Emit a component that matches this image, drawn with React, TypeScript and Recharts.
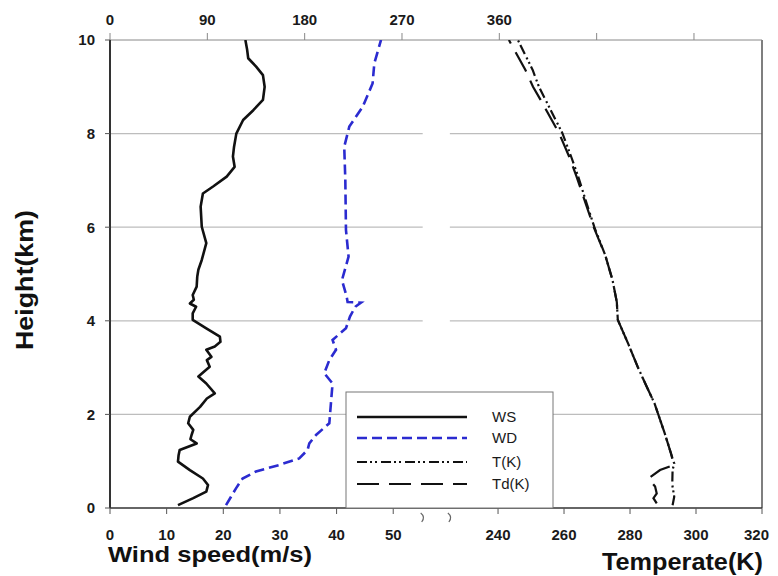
import React from 'react';
import { ScatterChart, Scatter, XAxis, YAxis, ReferenceLine, ReferenceDot } from 'recharts';

const FONT = '"Liberation Sans", Arial, sans-serif';

// ---- axes / ticks ----
const heightTicks = [0, 2, 4, 6, 8, 10];
const wsTicks = [0, 10, 20, 30, 40, 50];
const wdTicks = [0, 90, 180, 270, 360, 450, 540];
const wdLabelMax = 360;
const tempTicks = [240, 260, 280, 300, 320];
const gridHeights = [2, 4, 6, 8];

const WS_MAX = 115.1;
const WD_MAX = 602.9;
const T_MIN = 122.4;
const T_MAX = 320;
const BREAK_WS = 55.2; // axis break, left panel end (m/s units)
const BREAK_T = 225.4; // axis break, right panel start (K units)

// ---- series: wind speed (m/s) ----
const wsHeight = [0.06, 0.21, 0.35, 0.49, 0.63, 0.81, 0.99, 1.12, 1.24, 1.38, 1.47, 1.56, 1.67, 1.81, 1.95, 2.16, 2.34, 2.45, 2.66, 2.81, 3.02, 3.16, 3.23, 3.38, 3.45, 3.55, 3.66, 3.84, 4.02, 4.16, 4.3, 4.37, 4.45, 4.55, 4.73, 4.94, 5.09, 5.3, 5.66, 6.01, 6.44, 6.72, 6.87, 7.08, 7.29, 7.51, 7.72, 8.0, 8.29, 8.5, 8.72, 9.0, 9.25, 9.43, 9.61, 9.8, 10.0];
const wsValue = [12.0, 14.7, 17.0, 17.3, 16.4, 14.1, 12.0, 12.1, 12.3, 15.3, 14.2, 14.4, 14.7, 13.8, 14.1, 15.9, 17.1, 18.5, 17.0, 15.6, 17.6, 17.1, 17.9, 17.0, 18.5, 19.5, 19.4, 17.0, 14.6, 14.6, 15.2, 14.1, 14.8, 14.6, 15.3, 15.4, 15.6, 16.2, 17.0, 16.2, 16.0, 16.4, 18.2, 20.6, 22.0, 21.7, 21.9, 22.3, 23.5, 25.3, 27.0, 27.3, 27.0, 25.8, 24.4, 24.2, 23.9];

// ---- series: wind direction (deg) ----
const wdHeight = [0.06, 0.24, 0.42, 0.63, 0.78, 0.92, 1.06, 1.24, 1.38, 1.56, 1.81, 2.24, 2.66, 2.88, 3.16, 3.38, 3.59, 3.84, 4.09, 4.3, 4.39, 4.4, 4.52, 4.87, 5.37, 5.94, 7.01, 7.72, 8.15, 8.57, 9.07, 9.5, 10.0];
const wdValue = [107.3, 111.9, 116.5, 122.6, 135.0, 156.5, 175.0, 182.7, 184.3, 190.5, 202.8, 204.3, 205.8, 198.1, 202.8, 209.0, 205.8, 218.2, 221.9, 226.8, 232.1, 219.7, 218.8, 214.5, 220.6, 218.2, 217.6, 216.6, 221.3, 233.6, 242.8, 244.4, 250.6];

// ---- series: temperature T (K) ----
const tHeight = [0.06, 0.24, 0.5, 0.81, 0.95, 1.17, 1.6, 2.24, 2.6, 3.02, 3.5, 4.02, 4.4, 4.87, 5.4, 6.0, 6.5, 7.08, 7.5, 8.01, 8.72, 9.0, 9.36, 10.0];
const tValue = [292.9, 293.4, 292.8, 292.9, 293.4, 292.4, 290.5, 287.4, 285.0, 282.3, 279.5, 276.3, 276.0, 274.7, 272.5, 269.2, 266.9, 264.3, 262.2, 259.5, 254.4, 252.4, 250.5, 246.0];

// ---- series: dew point Td (K) ----
const tdHeight = [0.1, 0.21, 0.31, 0.46, 0.63, 0.81, 0.9, 0.95, 1.17, 1.6, 2.24, 2.6, 3.02, 3.5, 4.02, 4.4, 4.87, 5.4, 6.0, 6.5, 7.08, 7.5, 8.01, 8.72, 9.0, 9.36, 10.0];
const tdValue = [288.1, 287.1, 288.1, 287.6, 285.6, 289.1, 292.5, 293.2, 292.4, 290.5, 287.4, 285.0, 282.3, 279.5, 276.3, 276.0, 274.7, 272.5, 269.0, 266.6, 263.8, 261.6, 258.5, 252.9, 250.6, 248.3, 243.3];

const toPoints = (hs: number[], vs: number[]) => hs.map((h, i) => ({ h, x: vs[i] }));
const wsData = toPoints(wsHeight, wsValue);
const wdData = toPoints(wdHeight, wdValue);
const tData = toPoints(tHeight, tValue);
const tdData = toPoints(tdHeight, tdValue);

const legendItems = [
  { name: 'WS', color: '#111111', dash: undefined as string | undefined, width: 2.6 },
  { name: 'WD', color: '#2b2bd0', dash: '10 5', width: 2.6 },
  { name: 'T(K)', color: '#111111', dash: '10 3 2 3 2 4', width: 2.2 },
  { name: 'Td(K)', color: '#111111', dash: '22 10', width: 2.2 },
];

const tickStyle = { fill: '#1a1a1a', fontSize: 15, fontWeight: 700, fontFamily: FONT };
const NoDot = () => <g />;

const TempTick = (props: any) => {
  const { cx, cy, value, last } = props;
  return (
    <g>
      <line x1={cx} y1={cy} x2={cx} y2={cy + 6} stroke="#555" strokeWidth={1} />
      <text x={last ? cx + 7 : cx} y={cy + 21} dy="0.71em" textAnchor={last ? 'end' : 'middle'} style={tickStyle as any}>{value}</text>
    </g>
  );
};

const BreakMark = (props: any) => {
  const { cx, cy } = props;
  return (
    <path d={`M ${cx - 2} ${cy + 5} Q ${cx + 3} ${cy + 9} ${cx - 1} ${cy + 14}`} fill="none" stroke="#666" strokeWidth={1.2} />
  );
};

const W = 762;
const H = 568;

export default function App() {
  return (
    <div style={{ position: 'relative', width: W, height: H }}>
      <ScatterChart width={W} height={H} margin={{ top: 0, right: 8, bottom: 38, left: 42 }} style={{ overflow: 'visible' }}>
        <XAxis
          xAxisId="ws"
          type="number"
          dataKey="x"
          domain={[0, WS_MAX]}
          ticks={wsTicks}
          allowDataOverflow
          orientation="bottom"
          height={30}
          tickSize={6}
          tickMargin={15}
          tick={tickStyle}
          axisLine={{ stroke: '#333', strokeWidth: 1.5 }}
          tickLine={{ stroke: '#555' }}
        />
        <XAxis xAxisId="t" type="number" dataKey="x" domain={[T_MIN, T_MAX]} allowDataOverflow hide height={0} />
        <XAxis
          xAxisId="wd"
          type="number"
          dataKey="x"
          domain={[0, WD_MAX]}
          ticks={wdTicks}
          allowDataOverflow
          orientation="top"
          height={32}
          tickSize={7}
          tickMargin={8}
          tick={tickStyle}
          tickFormatter={(v: number) => (v <= wdLabelMax ? String(v) : '')}
          axisLine={{ stroke: '#888' }}
          tickLine={{ stroke: '#888' }}
        />
        <YAxis
          type="number"
          dataKey="h"
          domain={[0, 10]}
          ticks={heightTicks}
          allowDataOverflow
          width={60}
          tickSize={5}
          tickMargin={10}
          tick={tickStyle}
          axisLine={{ stroke: '#333', strokeWidth: 2 }}
          tickLine={{ stroke: '#555' }}
        />
        {gridHeights.map((h) => (
          <ReferenceLine key={`gl${h}`} xAxisId="ws" segment={[{ x: 0, y: h }, { x: BREAK_WS, y: h }]} stroke="#bdbdbd" strokeWidth={1.2} />
        ))}
        {gridHeights.map((h) => (
          <ReferenceLine key={`gr${h}`} xAxisId="t" segment={[{ x: BREAK_T, y: h }, { x: T_MAX, y: h }]} stroke="#bdbdbd" strokeWidth={1.2} />
        ))}
        <ReferenceLine xAxisId="t" x={T_MAX} stroke="#555" strokeWidth={1.5} />
        <Scatter xAxisId="ws" data={wsData} fill="#111" shape={NoDot} lineType="joint"
          line={{ stroke: '#111111', strokeWidth: 2.6, strokeLinejoin: 'round' }} isAnimationActive={false} />
        <Scatter xAxisId="wd" data={wdData} fill="#2b2bd0" shape={NoDot} lineType="joint"
          line={{ stroke: '#2b2bd0', strokeWidth: 2.6, strokeDasharray: '10 5' }} isAnimationActive={false} />
        <Scatter xAxisId="t" data={tdData} fill="#111" shape={NoDot} lineType="joint"
          line={{ stroke: '#111111', strokeWidth: 2.2, strokeDasharray: '22 10' }} isAnimationActive={false} />
        <Scatter xAxisId="t" data={tData} fill="#111" shape={NoDot} lineType="joint"
          line={{ stroke: '#111111', strokeWidth: 2.2, strokeDasharray: '10 3 2 3 2 4' }} isAnimationActive={false} />
        {tempTicks.map((t, i) => (
          <ReferenceDot key={`tt${t}`} xAxisId="t" x={t} y={0} r={0} ifOverflow="visible"
            shape={(p: any) => <TempTick {...p} value={t} last={i === tempTicks.length - 1} />} />
        ))}
        <ReferenceDot xAxisId="ws" x={BREAK_WS} y={0} r={0} ifOverflow="visible" shape={(p: any) => <BreakMark {...p} />} />
        <ReferenceDot xAxisId="t" x={BREAK_T} y={0} r={0} ifOverflow="visible" shape={(p: any) => <BreakMark {...p} />} />
      </ScatterChart>
      <svg width={W} height={H} style={{ position: 'absolute', left: 0, top: 0, pointerEvents: 'none' }}>
        <g>
          <rect x={338} y={384} width={207} height={116} fill="#ffffff" stroke="#777" strokeWidth={1} />
          {legendItems.map((it, i) => {
            const y = [409, 430, 454, 476][i];
            return (
              <g key={it.name}>
                <line x1={349} x2={459} y1={y} y2={y} stroke={it.color} strokeWidth={it.width} strokeDasharray={it.dash} />
                <text x={484} y={y} dy="0.35em" fontSize={15} fontFamily={FONT} fill="#1a1a1a">{it.name}</text>
              </g>
            );
          })}
        </g>
        <text x={100} y={554} fontSize={22} fontWeight={700} fontFamily={FONT} fill="#111"
          textLength={204} lengthAdjust="spacingAndGlyphs">Wind speed(m/s)</text>
        <text x={594} y={562} fontSize={24} fontWeight={700} fontFamily={FONT} fill="#111"
          textLength={161} lengthAdjust="spacingAndGlyphs">Temperate(K)</text>
        <text transform="translate(25,272) rotate(-90)" x={-70} y={0} fontSize={24} fontWeight={700} fontFamily={FONT} fill="#111"
          textLength={140} lengthAdjust="spacingAndGlyphs">Height(km)</text>
      </svg>
    </div>
  );
}
